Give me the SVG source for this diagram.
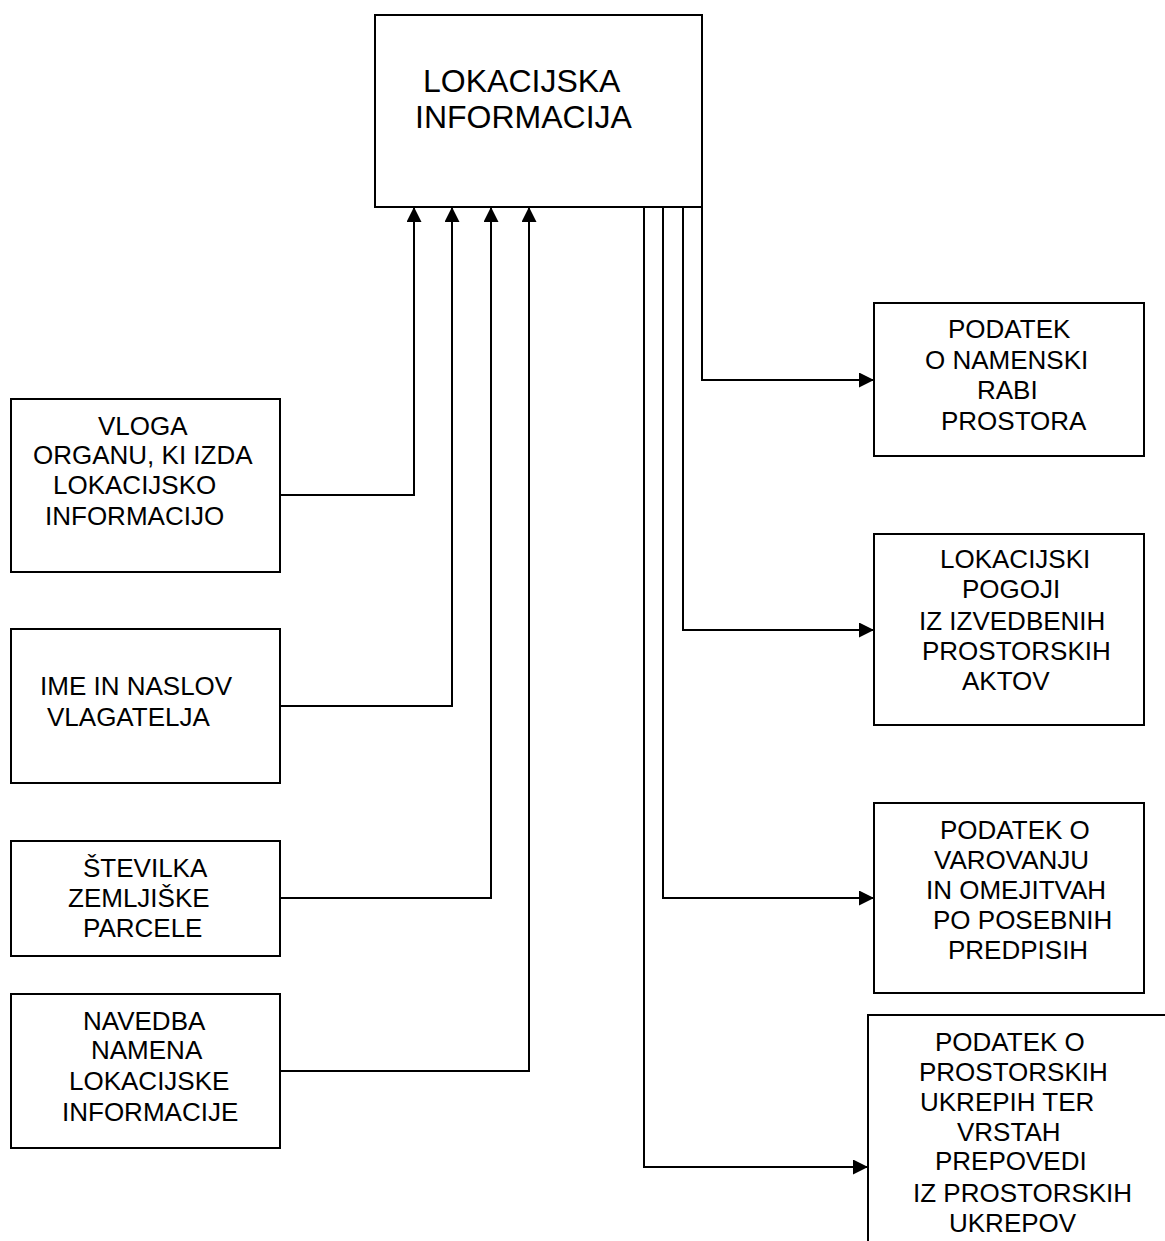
<svg xmlns="http://www.w3.org/2000/svg" width="1165" height="1241" viewBox="0 0 1165 1241">
<style>
.box{fill:#fff;stroke:#000;stroke-width:2}
.t{font-family:"Liberation Sans",Arial,sans-serif;font-size:26px;fill:#000}
.big{font-size:32px}
.c{fill:none;stroke:#000;stroke-width:2}
</style>
<defs>
<marker id="ah" markerUnits="userSpaceOnUse" markerWidth="16" markerHeight="16" refX="15" refY="7.5" orient="auto">
<path d="M0,0 L15,7.5 L0,15 z" fill="#000"/>
</marker>
</defs>
<rect width="1165" height="1241" fill="#fff"/>
<g id="main">
<rect class="box" x="375" y="15" width="327" height="192"/>
<text class="t big" x="423" y="92">LOKACIJSKA</text>
<text class="t big" x="415" y="128">INFORMACIJA</text>
</g>
<g id="vloga">
<rect class="box" x="11" y="399" width="269" height="173"/>
<text class="t" x="98" y="435">VLOGA</text>
<text class="t" x="33" y="464">ORGANU, KI IZDA</text>
<text class="t" x="53" y="494">LOKACIJSKO</text>
<text class="t" x="45" y="525">INFORMACIJO</text>
</g>
<g id="ime">
<rect class="box" x="11" y="629" width="269" height="154"/>
<text class="t" x="40" y="695">IME IN NASLOV</text>
<text class="t" x="47" y="726">VLAGATELJA</text>
</g>
<g id="stevilka">
<rect class="box" x="11" y="841" width="269" height="115"/>
<text class="t" x="83" y="877">ŠTEVILKA</text>
<text class="t" x="68" y="907">ZEMLJIŠKE</text>
<text class="t" x="83" y="937">PARCELE</text>
</g>
<g id="navedba">
<rect class="box" x="11" y="994" width="269" height="154"/>
<text class="t" x="83" y="1030">NAVEDBA</text>
<text class="t" x="91" y="1059">NAMENA</text>
<text class="t" x="69" y="1090">LOKACIJSKE</text>
<text class="t" x="62" y="1121">INFORMACIJE</text>
</g>
<g id="namenska">
<rect class="box" x="874" y="303" width="270" height="153"/>
<text class="t" x="948" y="338">PODATEK</text>
<text class="t" x="925" y="369">O NAMENSKI</text>
<text class="t" x="977" y="399">RABI</text>
<text class="t" x="941" y="430">PROSTORA</text>
</g>
<g id="pogoji">
<rect class="box" x="874" y="534" width="270" height="191"/>
<text class="t" x="940" y="568">LOKACIJSKI</text>
<text class="t" x="962" y="598">POGOJI</text>
<text class="t" x="919" y="630">IZ IZVEDBENIH</text>
<text class="t" x="922" y="660">PROSTORSKIH</text>
<text class="t" x="962" y="690">AKTOV</text>
</g>
<g id="varovanje">
<rect class="box" x="874" y="803" width="270" height="190"/>
<text class="t" x="940" y="839">PODATEK O</text>
<text class="t" x="934" y="869">VAROVANJU</text>
<text class="t" x="926" y="899">IN OMEJITVAH</text>
<text class="t" x="933" y="929">PO POSEBNIH</text>
<text class="t" x="948" y="959">PREDPISIH</text>
</g>
<g id="ukrepi">
<path class="c" d="M868,1241 V1015 H1166"/>
<text class="t" x="935" y="1051">PODATEK O</text>
<text class="t" x="919" y="1081">PROSTORSKIH</text>
<text class="t" x="920" y="1111">UKREPIH TER</text>
<text class="t" x="957" y="1141">VRSTAH</text>
<text class="t" x="935" y="1170">PREPOVEDI</text>
<text class="t" x="913" y="1202">IZ PROSTORSKIH</text>
<text class="t" x="949" y="1232">UKREPOV</text>
</g>
<g id="connectors">
<path class="c" d="M280,495 H414 V207" marker-end="url(#ah)"/>
<path class="c" d="M280,706 H452 V207" marker-end="url(#ah)"/>
<path class="c" d="M280,898 H491 V207" marker-end="url(#ah)"/>
<path class="c" d="M280,1071 H529 V207" marker-end="url(#ah)"/>
<path class="c" d="M702,188 V380 H874" marker-end="url(#ah)"/>
<path class="c" d="M683,207 V630 H874" marker-end="url(#ah)"/>
<path class="c" d="M663,207 V898 H874" marker-end="url(#ah)"/>
<path class="c" d="M644,207 V1167 H868" marker-end="url(#ah)"/>
</g>
</svg>
